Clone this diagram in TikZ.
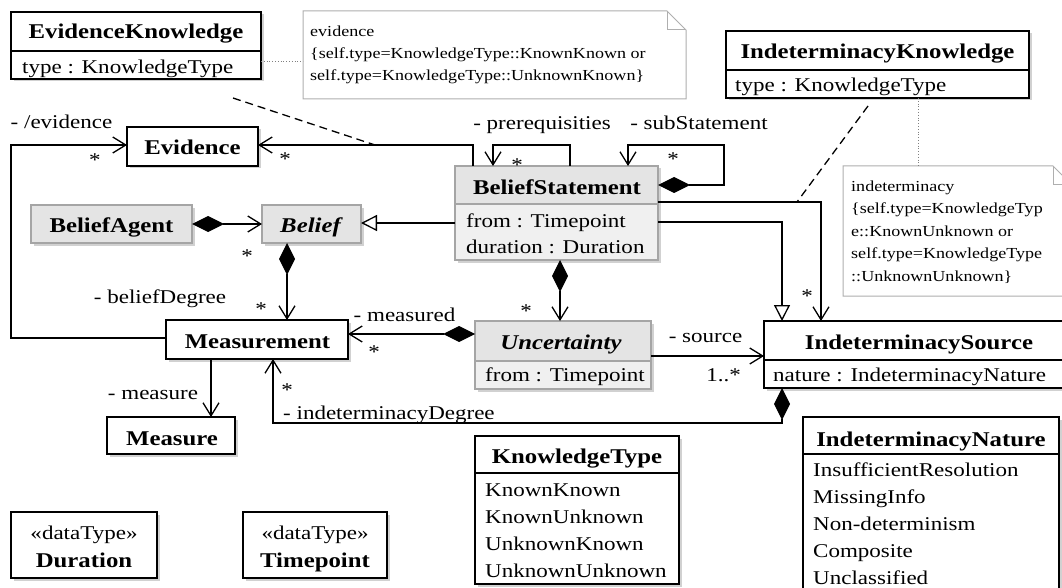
\documentclass[tikz,border=0pt]{standalone}
\usepackage{fontspec}
\setmainfont{Liberation Serif}[FakeStretch=1.18]
\usetikzlibrary{arrows.meta,shadows}

\definecolor{hdrgray}{RGB}{228,228,228}
\definecolor{attrgray}{RGB}{240,240,240}
\definecolor{edgegray}{RGB}{165,165,165}
\definecolor{notegray}{RGB}{175,175,175}

\begin{document}
\begin{tikzpicture}[x=1pt,y=-1pt,
  shadowed/.style={drop shadow={shadow xshift=2.5pt,shadow yshift=-2.5pt,opacity=0.18,fill=black}},
  umlbox/.style={rectangle,draw=black,line width=1.4pt,fill=white,inner sep=0pt,outer sep=0pt,shadowed},
  graybox/.style={rectangle,draw=edgegray,line width=1.2pt,fill=attrgray,inner sep=0pt,outer sep=0pt,shadowed},
  holder/.style={rectangle,inner sep=0pt,outer sep=0pt},
  sepline/.style={line width=1.4pt,draw=black},
  grayline/.style={line width=1.2pt,draw=edgegray},
  ttl/.style={font=\fontsize{21}{25}\selectfont\bfseries,inner sep=0pt,text height=14pt,text depth=0pt},
  ttlit/.style={ttl,font=\fontsize{21}{25}\selectfont\bfseries\itshape},
  txt/.style={font=\fontsize{19.5}{23}\selectfont,inner sep=0pt,text height=13pt,text depth=0pt},
  star/.style={txt,yshift=-3pt},
  notetxt/.style={font=\fontsize{15.3}{22}\selectfont,inner sep=0pt,anchor=base west},
  noteline/.style={draw=notegray,line width=1pt,fill=white},
  conn/.style={line width=1.3pt,draw=black},
  assoc/.style={conn,-{Straight Barb[length=13pt,width=16pt]}},
  comp/.style={conn,{Diamond[length=32pt,width=16pt]}-{Straight Barb[length=13pt,width=16pt]}},
  gen/.style={conn,-{Triangle[length=16pt,width=16pt,fill=white]}},
  constraint/.style={conn,dash pattern=on 8pt off 5pt},
  anchorline/.style={draw=gray,line width=0.8pt,dotted},
]
\useasboundingbox (0,0) rectangle (1062,588);
\clip (0,0) rectangle (1062,588);

% ---------- notes ----------
\node[holder,minimum width=383pt,minimum height=88pt] (n1) at (494.5,55) {};
\draw[noteline] (n1.north west) -- ([xshift=-19pt]n1.north east) -- ([yshift=-19pt]n1.north east)
  -- (n1.south east) -- (n1.south west) -- cycle;
\draw[draw=notegray,line width=1pt] ([xshift=-19pt]n1.north east) -- ([xshift=-19pt,yshift=-19pt]n1.north east) -- ([yshift=-19pt]n1.north east);
\node[notetxt] (n1a) at (310,37) {evidence};
\node[notetxt] (n1b) at (310,59) {\{self.type=KnowledgeType::KnownKnown or};
\node[notetxt] (n1c) at (310,81) {self.type=KnowledgeType::UnknownKnown\}};

\node[holder,minimum width=229pt,minimum height=130pt] (n2) at (957.5,231) {};
\draw[noteline] (n2.north west) -- ([xshift=-19pt]n2.north east) -- ([yshift=-19pt]n2.north east)
  -- (n2.south east) -- (n2.south west) -- cycle;
\draw[draw=notegray,line width=1pt] ([xshift=-19pt]n2.north east) -- ([xshift=-19pt,yshift=-19pt]n2.north east) -- ([yshift=-19pt]n2.north east);
\node[notetxt] (n2a) at (851,191) {indeterminacy};
\node[notetxt] (n2b) at (851,213.5) {\{self.type=KnowledgeTyp};
\node[notetxt] (n2c) at (851,236) {e::KnownUnknown or};
\node[notetxt] (n2d) at (851,258.5) {self.type=KnowledgeType};
\node[notetxt] (n2e) at (851,281) {::UnknownUnknown\}};

% ---------- classes ----------
\node[umlbox,minimum width=250pt,minimum height=67pt] (ek) at (136,45.5) {};
\draw[sepline] (ek.west |- 0,51) -- (ek.east |- 0,51);
\node[ttl] (ekT) at (136,32) {EvidenceKnowledge};
\node[txt,anchor=west] (ekA) at (22,67) {type : KnowledgeType};

\node[umlbox,minimum width=303pt,minimum height=67pt] (ik) at (877.5,64.5) {};
\draw[sepline] (ik.west |- 0,70) -- (ik.east |- 0,70);
\node[ttl] (ikT) at (877.5,52) {IndeterminacyKnowledge};
\node[txt,anchor=west] (ikA) at (735,85) {type : KnowledgeType};

\node[umlbox,minimum width=131pt,minimum height=39pt] (ev) at (192.5,146.5) {};
\node[ttl] (evT) at (192.5,148) {Evidence};

\node[graybox,fill=hdrgray,minimum width=161pt,minimum height=38pt] (ba) at (111.5,224) {};
\node[ttl] (baT) at (111.5,225) {BeliefAgent};

\node[graybox,fill=hdrgray,minimum width=99pt,minimum height=38pt] (be) at (311.5,224) {};
\node[ttlit] (beT) at (310.5,225) {Belief};

\node[graybox,minimum width=203pt,minimum height=94pt] (bs) at (556.5,213) {};
\fill[hdrgray] (455.6,166.6) rectangle (657.4,204);
\draw[grayline] (bs.west |- 0,204) -- (bs.east |- 0,204);
\node[ttl] (bsT) at (557,187) {BeliefStatement};
\node[txt,anchor=west] (bsA1) at (466,221) {from : Timepoint};
\node[txt,anchor=west] (bsA2) at (466,247) {duration : Duration};

\node[umlbox,minimum width=182pt,minimum height=39pt] (me) at (257,339.5) {};
\node[ttl] (meT) at (257.5,341) {Measurement};

\node[umlbox,minimum width=128pt,minimum height=37pt] (ms) at (171,435.5) {};
\node[ttl] (msT) at (172,438) {Measure};

\node[graybox,minimum width=176pt,minimum height=68pt] (un) at (563,355) {};
\fill[hdrgray] (475.6,321.6) rectangle (650.4,361);
\draw[grayline] (un.west |- 0,361) -- (un.east |- 0,361);
\node[ttlit] (unT) at (561,342) {Uncertainty};
\node[txt,anchor=west] (unA) at (485,375) {from : Timepoint};

\node[umlbox,minimum width=310pt,minimum height=67pt] (is) at (919,354.5) {};
\draw[sepline] (is.west |- 0,360) -- (is.east |- 0,360);
\node[ttl] (isT) at (919,342) {IndeterminacySource};
\node[txt,anchor=west] (isA) at (773,375) {nature : IndeterminacyNature};

\node[umlbox,minimum width=256pt,minimum height=175pt] (inat) at (931,504.5) {};
\draw[sepline] (inat.west |- 0,454) -- (inat.east |- 0,454);
\node[ttl] (inatT) at (931,439) {IndeterminacyNature};
\node[txt,anchor=west] (inat1) at (813,470) {InsufficientResolution};
\node[txt,anchor=west] (inat2) at (813,497) {MissingInfo};
\node[txt,anchor=west] (inat3) at (813,524) {Non-determinism};
\node[txt,anchor=west] (inat4) at (813,551) {Composite};
\node[txt,anchor=west] (inat5) at (813,578) {Unclassified};

\node[umlbox,minimum width=204pt,minimum height=148pt] (kt) at (577,510) {};
\draw[sepline] (kt.west |- 0,473) -- (kt.east |- 0,473);
\node[ttl] (ktT) at (577,456) {KnowledgeType};
\node[txt,anchor=west] (kt1) at (485,490) {KnownKnown};
\node[txt,anchor=west] (kt2) at (485,517) {KnownUnknown};
\node[txt,anchor=west] (kt3) at (485,544) {UnknownKnown};
\node[txt,anchor=west] (kt4) at (485,571) {UnknownUnknown};

\node[umlbox,minimum width=146pt,minimum height=66pt] (du) at (84,545) {};
\node[txt] (duS) at (84,533) {«dataType»};
\node[ttl] (duT) at (84,560) {Duration};

\node[umlbox,minimum width=144pt,minimum height=66pt] (tp) at (315,545) {};
\node[txt] (tpS) at (315,533) {«dataType»};
\node[ttl] (tpT) at (315,560) {Timepoint};

% ---------- note anchors and constraint links ----------
\draw[anchorline] (ek.east |- 0,61) -- (n1.west |- 0,61);
\draw[anchorline] (ik.south -| 918,0) -- (n2.north -| 918,0);

\coordinate (ekFoot) at (233,98);
\coordinate (evLink) at (375,145);
\draw[constraint] (ekFoot) -- (evLink);
\coordinate (ikFoot) at (868,106);
\coordinate (isLink) at (797,202);
\draw[constraint] (ikFoot) -- (isLink);

% ---------- associations ----------
\draw[assoc] (me.west |- 0,338) -- (11,338) -- (11,145) -- (ev.west |- 0,145);
\node[txt] (lEvid) at (61.5,122) {- /evidence};
\node[star] (sEvid1) at (95,157) {*};

\draw[assoc] (bs.north -| 473,0) |- (ev.east |- 0,145);
\node[star] (sEvid2) at (285,156) {*};

\draw[assoc] (bs.north -| 570,0) -- (570,145) -- (493,145) -- (bs.north -| 493,0);
\node[txt] (lPre) at (542,123) {- prerequisities};
\node[star] (sPre) at (517,162) {*};

\draw[comp] (bs.east |- 0,185) -- (724,185) -- (724,145) -- (628,145) -- (bs.north -| 628,0);
\node[txt] (lSub) at (699,123) {- subStatement};
\node[star] (sSub) at (673,156) {*};

\draw[gen] (bs.west |- 0,223) -- (be.east |- 0,223);

\draw[comp] (ba.east) -- (be.west);
\node[star] (sBel) at (247,253) {*};

\draw[comp] (be.south -| 287,0) -- (me.north -| 287,0);
\node[txt] (lDeg) at (160,297) {- beliefDegree};
\node[star] (sDeg) at (261,306) {*};

\draw[comp] (un.west |- 0,334) -- (me.east |- 0,334);
\node[txt] (lMeas) at (404.5,315) {- measured};
\node[star] (sMeas) at (374,349) {*};

\draw[comp] (bs.south -| 560,0) -- (un.north -| 560,0);
\node[star] (sUnc) at (526,308) {*};

\draw[assoc] (un.east |- 0,356) -- (is.west |- 0,356);
\node[txt] (lSrc) at (705.5,336) {- source};
\node[txt] (mSrc) at (723.5,375) {1..*};

\draw[comp] (is.south -| 782,0) -- (782,423) -- (273,423) -- (me.south -| 273,0);
\node[txt,anchor=west] (lInd) at (283,413) {- indeterminacyDegree};
\node[star] (sInd) at (287,387) {*};

\draw[assoc] (me.south -| 211,0) -- (ms.north -| 211,0);
\node[txt] (lMsr) at (153,393) {- measure};

\draw[gen] (bs.east |- 0,222) -| (is.north -| 782,0);

\draw[assoc] (bs.east |- 0,202) -| (is.north -| 821,0);
\node[star] (sIs) at (807,293) {*};

\end{tikzpicture}
\end{document}
